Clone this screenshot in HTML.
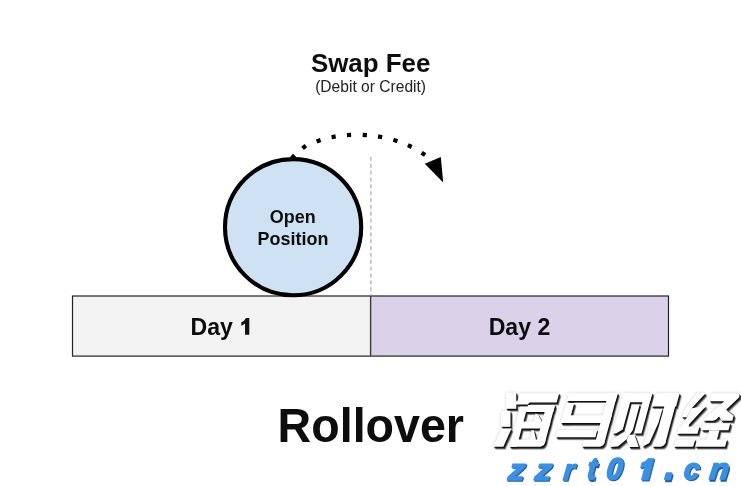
<!DOCTYPE html>
<html>
<head>
<meta charset="utf-8">
<title>Rollover</title>
<style>
html,body{margin:0;padding:0;background:#fff;}
body{width:741px;height:486px;overflow:hidden;font-family:"Liberation Sans",sans-serif;}
svg{display:block;}
text{font-family:"Liberation Sans",sans-serif;}
.b{font-weight:bold;fill:#111;}
.r{fill:#222;}
</style>
</head>
<body>
<svg width="741" height="486" viewBox="0 0 741 486">
  <defs>
    <filter id="halo" x="-5%" y="-15%" width="110%" height="130%"><feGaussianBlur stdDeviation="1.6"/></filter>
    <filter id="soft2" x="-5%" y="-20%" width="110%" height="140%"><feGaussianBlur stdDeviation="0.3"/></filter>
    <filter id="gray" x="-5%" y="-30%" width="110%" height="160%"><feGaussianBlur stdDeviation="0.3"/></filter>
  </defs>
  <rect x="0" y="0" width="741" height="486" fill="#ffffff"/>

  <!-- headings -->
  <text filter="url(#gray)" class="b" transform="translate(370.60 71.60) scale(1 1.030)" font-size="25.90" text-anchor="middle" >Swap Fee</text>
  <text filter="url(#gray)" class="r" transform="translate(370.60 92.20) scale(1 1.020)" font-size="15.60" text-anchor="middle" >(Debit or Credit)</text>

  <!-- day bar -->
  <rect x="72.5" y="296.0" width="298" height="60.1" fill="#f3f3f3"/>
  <rect x="370.5" y="296.0" width="298" height="60.1" fill="#d9d2e9"/>
  <rect x="72.5" y="296.0" width="596" height="60.1" fill="none" stroke="#222" stroke-width="1.2"/>
  <line x1="370.6" y1="296.0" x2="370.6" y2="356.1" stroke="#3c3a40" stroke-width="1.4"/>
  <line x1="370.9" y1="157" x2="370.9" y2="295.5" stroke="#999" stroke-width="1" stroke-dasharray="4 2.85"/>

  <!-- dotted arc arrow -->
  <g fill="#000">
    <rect x="-2.1" y="-2.1" width="4.2" height="4.2" transform="translate(293.1 156.8) rotate(-50)"/>
    <rect x="-2.1" y="-2.1" width="4.2" height="4.2" transform="translate(304.2 147.0) rotate(-38)"/>
    <rect x="-2.1" y="-2.1" width="4.2" height="4.2" transform="translate(318.6 140.8) rotate(-20)"/>
    <rect x="-2.1" y="-2.1" width="4.2" height="4.2" transform="translate(333.6 136.8) rotate(-11)"/>
    <rect x="-2.1" y="-2.1" width="4.2" height="4.2" transform="translate(349.0 135.0) rotate(-3)"/>
    <rect x="-2.1" y="-2.1" width="4.2" height="4.2" transform="translate(364.8 135.0) rotate(3)"/>
    <rect x="-2.1" y="-2.1" width="4.2" height="4.2" transform="translate(380.1 136.8) rotate(11)"/>
    <rect x="-2.1" y="-2.1" width="4.2" height="4.2" transform="translate(395.4 140.5) rotate(18)"/>
    <rect x="-2.1" y="-2.1" width="4.2" height="4.2" transform="translate(409.8 146.1) rotate(25)"/>
    <rect x="-2.1" y="-2.1" width="4.2" height="4.2" transform="translate(423.4 153.8) rotate(33)"/>
  </g>
  <polygon points="424.8,163.8 440.8,157.1 443.2,182.5" fill="#000"/>

  <!-- circle -->
  <circle cx="293.1" cy="227.2" r="68.1" fill="#cfe2f3" stroke="#000" stroke-width="4.1"/>
  <text filter="url(#gray)" class="b" transform="translate(292.80 223.20) scale(1 0.970)" font-size="18.00" text-anchor="middle" >Open</text>
  <text filter="url(#gray)" class="b" transform="translate(292.90 244.90) scale(1 0.970)" font-size="18.00" text-anchor="middle" >Position</text>

  <!-- day labels -->
  <text filter="url(#gray)" class="b" transform="translate(190.60 334.50) scale(1 1.030)" font-size="23.10" text-anchor="start">Day</text>
  <path d="M249.3,317.9 L249.3,334.7 L245.0,334.7 L245.0,323.4 Q243.4,324.9 241.3,325.7 L241.3,322.3 Q244.6,320.9 246.0,317.9 Z" fill="#111"/>
  <text filter="url(#gray)" class="b" transform="translate(519.50 334.50) scale(1 1.030)" font-size="23.10" text-anchor="middle" >Day 2</text>

  <!-- footer title -->
  <text filter="url(#gray)" class="b" transform="translate(370.80 441.70) scale(1 1.015)" font-size="46.60" text-anchor="middle" fill="#000">Rollover</text>

  <!-- watermark: CJK glyphs drawn as polygons (white, with layered soft drop shadow) -->
  <g fill="#000" opacity="0.20" filter="url(#halo)">
    <g><polygon points="568.9,393.2 617.7,393.2 615.6,401.0 566.8,401.0"/><polygon points="608.4,393.2 617.7,393.2 604.3,443.3 595.0,443.3"/><polygon points="566.3,403.0 574.3,403.0 568.9,423.1 560.9,423.1"/><polygon points="563.0,415.2 611.8,415.2 609.7,423.1 560.9,423.1"/><polygon points="557.5,430.0 597.3,430.0 595.4,437.3 555.6,437.3"/><polygon points="583.6,440.0 605.1,440.0 604.3,443.2 603.3,444.9 601.9,446.1 599.9,446.8 581.8,446.8"/></g>
    <g><polygon points="506.0,392.5 516.3,392.5 516.3,408.8 506.0,408.8"/><polygon points="519.3,393.2 559.2,393.2 556.7,402.4 529.5,402.4 528.0,404.5 516.0,404.5 516.0,401.3 517.9,400.6"/><polygon points="501.0,411.0 510.5,411.0 510.5,426.8 501.0,426.8"/><polygon points="501.5,428.6 511.5,428.6 503.4,446.8 493.2,446.8"/><polygon points="520.0,406.8 527.5,406.8 516.8,446.8 509.3,446.8"/><polygon points="520.0,406.8 554.5,406.8 553.2,411.9 518.7,411.9"/><polygon points="528.0,404.9 555.0,404.9 553.2,411.9 526.2,411.9"/><polygon points="546.5,404.9 555.0,404.9 544.8,443.3 536.3,443.3"/><polygon points="516.1,421.5 550.6,421.5 548.7,428.6 514.2,428.6"/><polygon points="512.3,439.5 545.8,439.5 544.8,443.2 543.8,444.9 542.4,446.1 540.4,446.8 510.3,446.8"/><polygon points="535.5,413.5 538.0,414.5 541.5,420.5 541.5,422.0 534.0,422.0"/><polygon points="531.5,430.0 534.0,430.5 535.8,438.5 535.8,440.0 530.0,440.0"/></g>
    <g><polygon points="623.2,393.2 632.6,393.2 622.8,429.6 616.0,433.4 612.6,433.4"/><polygon points="623.2,393.2 652.3,393.2 649.8,402.3 620.7,402.3"/><polygon points="644.8,393.2 652.3,393.2 641.5,433.4 634.0,433.4"/><polygon points="631.7,404.5 639.8,404.5 632.9,430.0 626.4,439.5 617.9,446.6 610.0,447.0 611.5,440.0 617.5,436.2 624.6,431.8"/><polygon points="629.5,434.8 634.4,434.8 638.6,446.0 638.2,447.0 629.3,447.0 626.5,440.0"/><polygon points="655.2,393.2 679.7,393.2 676.1,406.6 651.6,406.6"/><polygon points="651.0,408.8 662.6,408.8 658.4,423.0 649.4,443.0 644.8,445.6 642.3,446.8 643.0,444.0 647.0,435.0 648.5,420.0"/><polygon points="667.8,393.2 678.7,393.2 665.3,443.3 654.4,443.3"/><polygon points="654.4,439.5 666.3,439.5 665.3,443.2 664.3,444.9 662.9,446.1 660.9,446.8 652.4,446.8"/></g>
    <g><polygon points="696.5,393.2 705.6,393.2 691.5,408.5 690.0,411.0 686.8,417.3 681.8,417.3 683.5,411.0"/><polygon points="691.5,408.3 706.1,406.1 689.2,424.2 688.3,428.0 680.0,428.0 686.9,417.2 689.5,411.5"/><polygon points="678.8,426.5 699.5,426.5 697.5,433.8 676.8,433.8"/><polygon points="675.8,439.5 695.2,439.5 693.2,446.8 673.8,446.8"/><polygon points="711.8,393.2 738.6,393.2 739.6,394.2 739.3,397.3 719.0,416.6 716.2,419.5 713.2,420.8 703.2,420.8 706.0,417.0 724.3,401.3 709.3,401.3"/><polygon points="723.0,408.0 726.5,409.9 733.8,415.1 732.4,420.8 721.5,420.8 719.0,416.6"/><polygon points="703.4,423.3 730.4,423.3 728.5,430.3 701.5,430.3"/><polygon points="709.2,430.3 719.5,430.3 716.9,440.0 706.6,440.0"/><polygon points="697.1,439.5 727.1,439.5 725.1,446.8 695.1,446.8"/></g>
  </g>
  <g fill="#000" opacity="0.5" transform="translate(0.6 0.8)">
    <g><polygon points="568.9,393.2 617.7,393.2 615.6,401.0 566.8,401.0"/><polygon points="608.4,393.2 617.7,393.2 604.3,443.3 595.0,443.3"/><polygon points="566.3,403.0 574.3,403.0 568.9,423.1 560.9,423.1"/><polygon points="563.0,415.2 611.8,415.2 609.7,423.1 560.9,423.1"/><polygon points="557.5,430.0 597.3,430.0 595.4,437.3 555.6,437.3"/><polygon points="583.6,440.0 605.1,440.0 604.3,443.2 603.3,444.9 601.9,446.1 599.9,446.8 581.8,446.8"/></g>
    <g><polygon points="506.0,392.5 516.3,392.5 516.3,408.8 506.0,408.8"/><polygon points="519.3,393.2 559.2,393.2 556.7,402.4 529.5,402.4 528.0,404.5 516.0,404.5 516.0,401.3 517.9,400.6"/><polygon points="501.0,411.0 510.5,411.0 510.5,426.8 501.0,426.8"/><polygon points="501.5,428.6 511.5,428.6 503.4,446.8 493.2,446.8"/><polygon points="520.0,406.8 527.5,406.8 516.8,446.8 509.3,446.8"/><polygon points="520.0,406.8 554.5,406.8 553.2,411.9 518.7,411.9"/><polygon points="528.0,404.9 555.0,404.9 553.2,411.9 526.2,411.9"/><polygon points="546.5,404.9 555.0,404.9 544.8,443.3 536.3,443.3"/><polygon points="516.1,421.5 550.6,421.5 548.7,428.6 514.2,428.6"/><polygon points="512.3,439.5 545.8,439.5 544.8,443.2 543.8,444.9 542.4,446.1 540.4,446.8 510.3,446.8"/><polygon points="535.5,413.5 538.0,414.5 541.5,420.5 541.5,422.0 534.0,422.0"/><polygon points="531.5,430.0 534.0,430.5 535.8,438.5 535.8,440.0 530.0,440.0"/></g>
    <g><polygon points="623.2,393.2 632.6,393.2 622.8,429.6 616.0,433.4 612.6,433.4"/><polygon points="623.2,393.2 652.3,393.2 649.8,402.3 620.7,402.3"/><polygon points="644.8,393.2 652.3,393.2 641.5,433.4 634.0,433.4"/><polygon points="631.7,404.5 639.8,404.5 632.9,430.0 626.4,439.5 617.9,446.6 610.0,447.0 611.5,440.0 617.5,436.2 624.6,431.8"/><polygon points="629.5,434.8 634.4,434.8 638.6,446.0 638.2,447.0 629.3,447.0 626.5,440.0"/><polygon points="655.2,393.2 679.7,393.2 676.1,406.6 651.6,406.6"/><polygon points="651.0,408.8 662.6,408.8 658.4,423.0 649.4,443.0 644.8,445.6 642.3,446.8 643.0,444.0 647.0,435.0 648.5,420.0"/><polygon points="667.8,393.2 678.7,393.2 665.3,443.3 654.4,443.3"/><polygon points="654.4,439.5 666.3,439.5 665.3,443.2 664.3,444.9 662.9,446.1 660.9,446.8 652.4,446.8"/></g>
    <g><polygon points="696.5,393.2 705.6,393.2 691.5,408.5 690.0,411.0 686.8,417.3 681.8,417.3 683.5,411.0"/><polygon points="691.5,408.3 706.1,406.1 689.2,424.2 688.3,428.0 680.0,428.0 686.9,417.2 689.5,411.5"/><polygon points="678.8,426.5 699.5,426.5 697.5,433.8 676.8,433.8"/><polygon points="675.8,439.5 695.2,439.5 693.2,446.8 673.8,446.8"/><polygon points="711.8,393.2 738.6,393.2 739.6,394.2 739.3,397.3 719.0,416.6 716.2,419.5 713.2,420.8 703.2,420.8 706.0,417.0 724.3,401.3 709.3,401.3"/><polygon points="723.0,408.0 726.5,409.9 733.8,415.1 732.4,420.8 721.5,420.8 719.0,416.6"/><polygon points="703.4,423.3 730.4,423.3 728.5,430.3 701.5,430.3"/><polygon points="709.2,430.3 719.5,430.3 716.9,440.0 706.6,440.0"/><polygon points="697.1,439.5 727.1,439.5 725.1,446.8 695.1,446.8"/></g>
  </g>
  <g fill="#000" opacity="0.5" transform="translate(1 1.3)">
    <g><polygon points="568.9,393.2 617.7,393.2 615.6,401.0 566.8,401.0"/><polygon points="608.4,393.2 617.7,393.2 604.3,443.3 595.0,443.3"/><polygon points="566.3,403.0 574.3,403.0 568.9,423.1 560.9,423.1"/><polygon points="563.0,415.2 611.8,415.2 609.7,423.1 560.9,423.1"/><polygon points="557.5,430.0 597.3,430.0 595.4,437.3 555.6,437.3"/><polygon points="583.6,440.0 605.1,440.0 604.3,443.2 603.3,444.9 601.9,446.1 599.9,446.8 581.8,446.8"/></g>
    <g><polygon points="506.0,392.5 516.3,392.5 516.3,408.8 506.0,408.8"/><polygon points="519.3,393.2 559.2,393.2 556.7,402.4 529.5,402.4 528.0,404.5 516.0,404.5 516.0,401.3 517.9,400.6"/><polygon points="501.0,411.0 510.5,411.0 510.5,426.8 501.0,426.8"/><polygon points="501.5,428.6 511.5,428.6 503.4,446.8 493.2,446.8"/><polygon points="520.0,406.8 527.5,406.8 516.8,446.8 509.3,446.8"/><polygon points="520.0,406.8 554.5,406.8 553.2,411.9 518.7,411.9"/><polygon points="528.0,404.9 555.0,404.9 553.2,411.9 526.2,411.9"/><polygon points="546.5,404.9 555.0,404.9 544.8,443.3 536.3,443.3"/><polygon points="516.1,421.5 550.6,421.5 548.7,428.6 514.2,428.6"/><polygon points="512.3,439.5 545.8,439.5 544.8,443.2 543.8,444.9 542.4,446.1 540.4,446.8 510.3,446.8"/><polygon points="535.5,413.5 538.0,414.5 541.5,420.5 541.5,422.0 534.0,422.0"/><polygon points="531.5,430.0 534.0,430.5 535.8,438.5 535.8,440.0 530.0,440.0"/></g>
    <g><polygon points="623.2,393.2 632.6,393.2 622.8,429.6 616.0,433.4 612.6,433.4"/><polygon points="623.2,393.2 652.3,393.2 649.8,402.3 620.7,402.3"/><polygon points="644.8,393.2 652.3,393.2 641.5,433.4 634.0,433.4"/><polygon points="631.7,404.5 639.8,404.5 632.9,430.0 626.4,439.5 617.9,446.6 610.0,447.0 611.5,440.0 617.5,436.2 624.6,431.8"/><polygon points="629.5,434.8 634.4,434.8 638.6,446.0 638.2,447.0 629.3,447.0 626.5,440.0"/><polygon points="655.2,393.2 679.7,393.2 676.1,406.6 651.6,406.6"/><polygon points="651.0,408.8 662.6,408.8 658.4,423.0 649.4,443.0 644.8,445.6 642.3,446.8 643.0,444.0 647.0,435.0 648.5,420.0"/><polygon points="667.8,393.2 678.7,393.2 665.3,443.3 654.4,443.3"/><polygon points="654.4,439.5 666.3,439.5 665.3,443.2 664.3,444.9 662.9,446.1 660.9,446.8 652.4,446.8"/></g>
    <g><polygon points="696.5,393.2 705.6,393.2 691.5,408.5 690.0,411.0 686.8,417.3 681.8,417.3 683.5,411.0"/><polygon points="691.5,408.3 706.1,406.1 689.2,424.2 688.3,428.0 680.0,428.0 686.9,417.2 689.5,411.5"/><polygon points="678.8,426.5 699.5,426.5 697.5,433.8 676.8,433.8"/><polygon points="675.8,439.5 695.2,439.5 693.2,446.8 673.8,446.8"/><polygon points="711.8,393.2 738.6,393.2 739.6,394.2 739.3,397.3 719.0,416.6 716.2,419.5 713.2,420.8 703.2,420.8 706.0,417.0 724.3,401.3 709.3,401.3"/><polygon points="723.0,408.0 726.5,409.9 733.8,415.1 732.4,420.8 721.5,420.8 719.0,416.6"/><polygon points="703.4,423.3 730.4,423.3 728.5,430.3 701.5,430.3"/><polygon points="709.2,430.3 719.5,430.3 716.9,440.0 706.6,440.0"/><polygon points="697.1,439.5 727.1,439.5 725.1,446.8 695.1,446.8"/></g>
  </g>
  <g fill="#000" opacity="0.45" transform="translate(1.35 1.8)">
    <g><polygon points="568.9,393.2 617.7,393.2 615.6,401.0 566.8,401.0"/><polygon points="608.4,393.2 617.7,393.2 604.3,443.3 595.0,443.3"/><polygon points="566.3,403.0 574.3,403.0 568.9,423.1 560.9,423.1"/><polygon points="563.0,415.2 611.8,415.2 609.7,423.1 560.9,423.1"/><polygon points="557.5,430.0 597.3,430.0 595.4,437.3 555.6,437.3"/><polygon points="583.6,440.0 605.1,440.0 604.3,443.2 603.3,444.9 601.9,446.1 599.9,446.8 581.8,446.8"/></g>
    <g><polygon points="506.0,392.5 516.3,392.5 516.3,408.8 506.0,408.8"/><polygon points="519.3,393.2 559.2,393.2 556.7,402.4 529.5,402.4 528.0,404.5 516.0,404.5 516.0,401.3 517.9,400.6"/><polygon points="501.0,411.0 510.5,411.0 510.5,426.8 501.0,426.8"/><polygon points="501.5,428.6 511.5,428.6 503.4,446.8 493.2,446.8"/><polygon points="520.0,406.8 527.5,406.8 516.8,446.8 509.3,446.8"/><polygon points="520.0,406.8 554.5,406.8 553.2,411.9 518.7,411.9"/><polygon points="528.0,404.9 555.0,404.9 553.2,411.9 526.2,411.9"/><polygon points="546.5,404.9 555.0,404.9 544.8,443.3 536.3,443.3"/><polygon points="516.1,421.5 550.6,421.5 548.7,428.6 514.2,428.6"/><polygon points="512.3,439.5 545.8,439.5 544.8,443.2 543.8,444.9 542.4,446.1 540.4,446.8 510.3,446.8"/><polygon points="535.5,413.5 538.0,414.5 541.5,420.5 541.5,422.0 534.0,422.0"/><polygon points="531.5,430.0 534.0,430.5 535.8,438.5 535.8,440.0 530.0,440.0"/></g>
    <g><polygon points="623.2,393.2 632.6,393.2 622.8,429.6 616.0,433.4 612.6,433.4"/><polygon points="623.2,393.2 652.3,393.2 649.8,402.3 620.7,402.3"/><polygon points="644.8,393.2 652.3,393.2 641.5,433.4 634.0,433.4"/><polygon points="631.7,404.5 639.8,404.5 632.9,430.0 626.4,439.5 617.9,446.6 610.0,447.0 611.5,440.0 617.5,436.2 624.6,431.8"/><polygon points="629.5,434.8 634.4,434.8 638.6,446.0 638.2,447.0 629.3,447.0 626.5,440.0"/><polygon points="655.2,393.2 679.7,393.2 676.1,406.6 651.6,406.6"/><polygon points="651.0,408.8 662.6,408.8 658.4,423.0 649.4,443.0 644.8,445.6 642.3,446.8 643.0,444.0 647.0,435.0 648.5,420.0"/><polygon points="667.8,393.2 678.7,393.2 665.3,443.3 654.4,443.3"/><polygon points="654.4,439.5 666.3,439.5 665.3,443.2 664.3,444.9 662.9,446.1 660.9,446.8 652.4,446.8"/></g>
    <g><polygon points="696.5,393.2 705.6,393.2 691.5,408.5 690.0,411.0 686.8,417.3 681.8,417.3 683.5,411.0"/><polygon points="691.5,408.3 706.1,406.1 689.2,424.2 688.3,428.0 680.0,428.0 686.9,417.2 689.5,411.5"/><polygon points="678.8,426.5 699.5,426.5 697.5,433.8 676.8,433.8"/><polygon points="675.8,439.5 695.2,439.5 693.2,446.8 673.8,446.8"/><polygon points="711.8,393.2 738.6,393.2 739.6,394.2 739.3,397.3 719.0,416.6 716.2,419.5 713.2,420.8 703.2,420.8 706.0,417.0 724.3,401.3 709.3,401.3"/><polygon points="723.0,408.0 726.5,409.9 733.8,415.1 732.4,420.8 721.5,420.8 719.0,416.6"/><polygon points="703.4,423.3 730.4,423.3 728.5,430.3 701.5,430.3"/><polygon points="709.2,430.3 719.5,430.3 716.9,440.0 706.6,440.0"/><polygon points="697.1,439.5 727.1,439.5 725.1,446.8 695.1,446.8"/></g>
  </g>
  <g fill="#000" opacity="0.35" transform="translate(1.7 2.3)">
    <g><polygon points="568.9,393.2 617.7,393.2 615.6,401.0 566.8,401.0"/><polygon points="608.4,393.2 617.7,393.2 604.3,443.3 595.0,443.3"/><polygon points="566.3,403.0 574.3,403.0 568.9,423.1 560.9,423.1"/><polygon points="563.0,415.2 611.8,415.2 609.7,423.1 560.9,423.1"/><polygon points="557.5,430.0 597.3,430.0 595.4,437.3 555.6,437.3"/><polygon points="583.6,440.0 605.1,440.0 604.3,443.2 603.3,444.9 601.9,446.1 599.9,446.8 581.8,446.8"/></g>
    <g><polygon points="506.0,392.5 516.3,392.5 516.3,408.8 506.0,408.8"/><polygon points="519.3,393.2 559.2,393.2 556.7,402.4 529.5,402.4 528.0,404.5 516.0,404.5 516.0,401.3 517.9,400.6"/><polygon points="501.0,411.0 510.5,411.0 510.5,426.8 501.0,426.8"/><polygon points="501.5,428.6 511.5,428.6 503.4,446.8 493.2,446.8"/><polygon points="520.0,406.8 527.5,406.8 516.8,446.8 509.3,446.8"/><polygon points="520.0,406.8 554.5,406.8 553.2,411.9 518.7,411.9"/><polygon points="528.0,404.9 555.0,404.9 553.2,411.9 526.2,411.9"/><polygon points="546.5,404.9 555.0,404.9 544.8,443.3 536.3,443.3"/><polygon points="516.1,421.5 550.6,421.5 548.7,428.6 514.2,428.6"/><polygon points="512.3,439.5 545.8,439.5 544.8,443.2 543.8,444.9 542.4,446.1 540.4,446.8 510.3,446.8"/><polygon points="535.5,413.5 538.0,414.5 541.5,420.5 541.5,422.0 534.0,422.0"/><polygon points="531.5,430.0 534.0,430.5 535.8,438.5 535.8,440.0 530.0,440.0"/></g>
    <g><polygon points="623.2,393.2 632.6,393.2 622.8,429.6 616.0,433.4 612.6,433.4"/><polygon points="623.2,393.2 652.3,393.2 649.8,402.3 620.7,402.3"/><polygon points="644.8,393.2 652.3,393.2 641.5,433.4 634.0,433.4"/><polygon points="631.7,404.5 639.8,404.5 632.9,430.0 626.4,439.5 617.9,446.6 610.0,447.0 611.5,440.0 617.5,436.2 624.6,431.8"/><polygon points="629.5,434.8 634.4,434.8 638.6,446.0 638.2,447.0 629.3,447.0 626.5,440.0"/><polygon points="655.2,393.2 679.7,393.2 676.1,406.6 651.6,406.6"/><polygon points="651.0,408.8 662.6,408.8 658.4,423.0 649.4,443.0 644.8,445.6 642.3,446.8 643.0,444.0 647.0,435.0 648.5,420.0"/><polygon points="667.8,393.2 678.7,393.2 665.3,443.3 654.4,443.3"/><polygon points="654.4,439.5 666.3,439.5 665.3,443.2 664.3,444.9 662.9,446.1 660.9,446.8 652.4,446.8"/></g>
    <g><polygon points="696.5,393.2 705.6,393.2 691.5,408.5 690.0,411.0 686.8,417.3 681.8,417.3 683.5,411.0"/><polygon points="691.5,408.3 706.1,406.1 689.2,424.2 688.3,428.0 680.0,428.0 686.9,417.2 689.5,411.5"/><polygon points="678.8,426.5 699.5,426.5 697.5,433.8 676.8,433.8"/><polygon points="675.8,439.5 695.2,439.5 693.2,446.8 673.8,446.8"/><polygon points="711.8,393.2 738.6,393.2 739.6,394.2 739.3,397.3 719.0,416.6 716.2,419.5 713.2,420.8 703.2,420.8 706.0,417.0 724.3,401.3 709.3,401.3"/><polygon points="723.0,408.0 726.5,409.9 733.8,415.1 732.4,420.8 721.5,420.8 719.0,416.6"/><polygon points="703.4,423.3 730.4,423.3 728.5,430.3 701.5,430.3"/><polygon points="709.2,430.3 719.5,430.3 716.9,440.0 706.6,440.0"/><polygon points="697.1,439.5 727.1,439.5 725.1,446.8 695.1,446.8"/></g>
  </g>
  <g fill="#000" opacity="0.25" transform="translate(2.1 2.8)">
    <g><polygon points="568.9,393.2 617.7,393.2 615.6,401.0 566.8,401.0"/><polygon points="608.4,393.2 617.7,393.2 604.3,443.3 595.0,443.3"/><polygon points="566.3,403.0 574.3,403.0 568.9,423.1 560.9,423.1"/><polygon points="563.0,415.2 611.8,415.2 609.7,423.1 560.9,423.1"/><polygon points="557.5,430.0 597.3,430.0 595.4,437.3 555.6,437.3"/><polygon points="583.6,440.0 605.1,440.0 604.3,443.2 603.3,444.9 601.9,446.1 599.9,446.8 581.8,446.8"/></g>
    <g><polygon points="506.0,392.5 516.3,392.5 516.3,408.8 506.0,408.8"/><polygon points="519.3,393.2 559.2,393.2 556.7,402.4 529.5,402.4 528.0,404.5 516.0,404.5 516.0,401.3 517.9,400.6"/><polygon points="501.0,411.0 510.5,411.0 510.5,426.8 501.0,426.8"/><polygon points="501.5,428.6 511.5,428.6 503.4,446.8 493.2,446.8"/><polygon points="520.0,406.8 527.5,406.8 516.8,446.8 509.3,446.8"/><polygon points="520.0,406.8 554.5,406.8 553.2,411.9 518.7,411.9"/><polygon points="528.0,404.9 555.0,404.9 553.2,411.9 526.2,411.9"/><polygon points="546.5,404.9 555.0,404.9 544.8,443.3 536.3,443.3"/><polygon points="516.1,421.5 550.6,421.5 548.7,428.6 514.2,428.6"/><polygon points="512.3,439.5 545.8,439.5 544.8,443.2 543.8,444.9 542.4,446.1 540.4,446.8 510.3,446.8"/><polygon points="535.5,413.5 538.0,414.5 541.5,420.5 541.5,422.0 534.0,422.0"/><polygon points="531.5,430.0 534.0,430.5 535.8,438.5 535.8,440.0 530.0,440.0"/></g>
    <g><polygon points="623.2,393.2 632.6,393.2 622.8,429.6 616.0,433.4 612.6,433.4"/><polygon points="623.2,393.2 652.3,393.2 649.8,402.3 620.7,402.3"/><polygon points="644.8,393.2 652.3,393.2 641.5,433.4 634.0,433.4"/><polygon points="631.7,404.5 639.8,404.5 632.9,430.0 626.4,439.5 617.9,446.6 610.0,447.0 611.5,440.0 617.5,436.2 624.6,431.8"/><polygon points="629.5,434.8 634.4,434.8 638.6,446.0 638.2,447.0 629.3,447.0 626.5,440.0"/><polygon points="655.2,393.2 679.7,393.2 676.1,406.6 651.6,406.6"/><polygon points="651.0,408.8 662.6,408.8 658.4,423.0 649.4,443.0 644.8,445.6 642.3,446.8 643.0,444.0 647.0,435.0 648.5,420.0"/><polygon points="667.8,393.2 678.7,393.2 665.3,443.3 654.4,443.3"/><polygon points="654.4,439.5 666.3,439.5 665.3,443.2 664.3,444.9 662.9,446.1 660.9,446.8 652.4,446.8"/></g>
    <g><polygon points="696.5,393.2 705.6,393.2 691.5,408.5 690.0,411.0 686.8,417.3 681.8,417.3 683.5,411.0"/><polygon points="691.5,408.3 706.1,406.1 689.2,424.2 688.3,428.0 680.0,428.0 686.9,417.2 689.5,411.5"/><polygon points="678.8,426.5 699.5,426.5 697.5,433.8 676.8,433.8"/><polygon points="675.8,439.5 695.2,439.5 693.2,446.8 673.8,446.8"/><polygon points="711.8,393.2 738.6,393.2 739.6,394.2 739.3,397.3 719.0,416.6 716.2,419.5 713.2,420.8 703.2,420.8 706.0,417.0 724.3,401.3 709.3,401.3"/><polygon points="723.0,408.0 726.5,409.9 733.8,415.1 732.4,420.8 721.5,420.8 719.0,416.6"/><polygon points="703.4,423.3 730.4,423.3 728.5,430.3 701.5,430.3"/><polygon points="709.2,430.3 719.5,430.3 716.9,440.0 706.6,440.0"/><polygon points="697.1,439.5 727.1,439.5 725.1,446.8 695.1,446.8"/></g>
  </g>
  <g fill="#000" opacity="0.12" transform="translate(2.5 3.3)">
    <g><polygon points="568.9,393.2 617.7,393.2 615.6,401.0 566.8,401.0"/><polygon points="608.4,393.2 617.7,393.2 604.3,443.3 595.0,443.3"/><polygon points="566.3,403.0 574.3,403.0 568.9,423.1 560.9,423.1"/><polygon points="563.0,415.2 611.8,415.2 609.7,423.1 560.9,423.1"/><polygon points="557.5,430.0 597.3,430.0 595.4,437.3 555.6,437.3"/><polygon points="583.6,440.0 605.1,440.0 604.3,443.2 603.3,444.9 601.9,446.1 599.9,446.8 581.8,446.8"/></g>
    <g><polygon points="506.0,392.5 516.3,392.5 516.3,408.8 506.0,408.8"/><polygon points="519.3,393.2 559.2,393.2 556.7,402.4 529.5,402.4 528.0,404.5 516.0,404.5 516.0,401.3 517.9,400.6"/><polygon points="501.0,411.0 510.5,411.0 510.5,426.8 501.0,426.8"/><polygon points="501.5,428.6 511.5,428.6 503.4,446.8 493.2,446.8"/><polygon points="520.0,406.8 527.5,406.8 516.8,446.8 509.3,446.8"/><polygon points="520.0,406.8 554.5,406.8 553.2,411.9 518.7,411.9"/><polygon points="528.0,404.9 555.0,404.9 553.2,411.9 526.2,411.9"/><polygon points="546.5,404.9 555.0,404.9 544.8,443.3 536.3,443.3"/><polygon points="516.1,421.5 550.6,421.5 548.7,428.6 514.2,428.6"/><polygon points="512.3,439.5 545.8,439.5 544.8,443.2 543.8,444.9 542.4,446.1 540.4,446.8 510.3,446.8"/><polygon points="535.5,413.5 538.0,414.5 541.5,420.5 541.5,422.0 534.0,422.0"/><polygon points="531.5,430.0 534.0,430.5 535.8,438.5 535.8,440.0 530.0,440.0"/></g>
    <g><polygon points="623.2,393.2 632.6,393.2 622.8,429.6 616.0,433.4 612.6,433.4"/><polygon points="623.2,393.2 652.3,393.2 649.8,402.3 620.7,402.3"/><polygon points="644.8,393.2 652.3,393.2 641.5,433.4 634.0,433.4"/><polygon points="631.7,404.5 639.8,404.5 632.9,430.0 626.4,439.5 617.9,446.6 610.0,447.0 611.5,440.0 617.5,436.2 624.6,431.8"/><polygon points="629.5,434.8 634.4,434.8 638.6,446.0 638.2,447.0 629.3,447.0 626.5,440.0"/><polygon points="655.2,393.2 679.7,393.2 676.1,406.6 651.6,406.6"/><polygon points="651.0,408.8 662.6,408.8 658.4,423.0 649.4,443.0 644.8,445.6 642.3,446.8 643.0,444.0 647.0,435.0 648.5,420.0"/><polygon points="667.8,393.2 678.7,393.2 665.3,443.3 654.4,443.3"/><polygon points="654.4,439.5 666.3,439.5 665.3,443.2 664.3,444.9 662.9,446.1 660.9,446.8 652.4,446.8"/></g>
    <g><polygon points="696.5,393.2 705.6,393.2 691.5,408.5 690.0,411.0 686.8,417.3 681.8,417.3 683.5,411.0"/><polygon points="691.5,408.3 706.1,406.1 689.2,424.2 688.3,428.0 680.0,428.0 686.9,417.2 689.5,411.5"/><polygon points="678.8,426.5 699.5,426.5 697.5,433.8 676.8,433.8"/><polygon points="675.8,439.5 695.2,439.5 693.2,446.8 673.8,446.8"/><polygon points="711.8,393.2 738.6,393.2 739.6,394.2 739.3,397.3 719.0,416.6 716.2,419.5 713.2,420.8 703.2,420.8 706.0,417.0 724.3,401.3 709.3,401.3"/><polygon points="723.0,408.0 726.5,409.9 733.8,415.1 732.4,420.8 721.5,420.8 719.0,416.6"/><polygon points="703.4,423.3 730.4,423.3 728.5,430.3 701.5,430.3"/><polygon points="709.2,430.3 719.5,430.3 716.9,440.0 706.6,440.0"/><polygon points="697.1,439.5 727.1,439.5 725.1,446.8 695.1,446.8"/></g>
  </g>
  <g fill="#fff">
    <g><polygon points="568.9,393.2 617.7,393.2 615.6,401.0 566.8,401.0"/><polygon points="608.4,393.2 617.7,393.2 604.3,443.3 595.0,443.3"/><polygon points="566.3,403.0 574.3,403.0 568.9,423.1 560.9,423.1"/><polygon points="563.0,415.2 611.8,415.2 609.7,423.1 560.9,423.1"/><polygon points="557.5,430.0 597.3,430.0 595.4,437.3 555.6,437.3"/><polygon points="583.6,440.0 605.1,440.0 604.3,443.2 603.3,444.9 601.9,446.1 599.9,446.8 581.8,446.8"/></g>
    <g><polygon points="506.0,392.5 516.3,392.5 516.3,408.8 506.0,408.8"/><polygon points="519.3,393.2 559.2,393.2 556.7,402.4 529.5,402.4 528.0,404.5 516.0,404.5 516.0,401.3 517.9,400.6"/><polygon points="501.0,411.0 510.5,411.0 510.5,426.8 501.0,426.8"/><polygon points="501.5,428.6 511.5,428.6 503.4,446.8 493.2,446.8"/><polygon points="520.0,406.8 527.5,406.8 516.8,446.8 509.3,446.8"/><polygon points="520.0,406.8 554.5,406.8 553.2,411.9 518.7,411.9"/><polygon points="528.0,404.9 555.0,404.9 553.2,411.9 526.2,411.9"/><polygon points="546.5,404.9 555.0,404.9 544.8,443.3 536.3,443.3"/><polygon points="516.1,421.5 550.6,421.5 548.7,428.6 514.2,428.6"/><polygon points="512.3,439.5 545.8,439.5 544.8,443.2 543.8,444.9 542.4,446.1 540.4,446.8 510.3,446.8"/><polygon points="535.5,413.5 538.0,414.5 541.5,420.5 541.5,422.0 534.0,422.0"/><polygon points="531.5,430.0 534.0,430.5 535.8,438.5 535.8,440.0 530.0,440.0"/></g>
    <g><polygon points="623.2,393.2 632.6,393.2 622.8,429.6 616.0,433.4 612.6,433.4"/><polygon points="623.2,393.2 652.3,393.2 649.8,402.3 620.7,402.3"/><polygon points="644.8,393.2 652.3,393.2 641.5,433.4 634.0,433.4"/><polygon points="631.7,404.5 639.8,404.5 632.9,430.0 626.4,439.5 617.9,446.6 610.0,447.0 611.5,440.0 617.5,436.2 624.6,431.8"/><polygon points="629.5,434.8 634.4,434.8 638.6,446.0 638.2,447.0 629.3,447.0 626.5,440.0"/><polygon points="655.2,393.2 679.7,393.2 676.1,406.6 651.6,406.6"/><polygon points="651.0,408.8 662.6,408.8 658.4,423.0 649.4,443.0 644.8,445.6 642.3,446.8 643.0,444.0 647.0,435.0 648.5,420.0"/><polygon points="667.8,393.2 678.7,393.2 665.3,443.3 654.4,443.3"/><polygon points="654.4,439.5 666.3,439.5 665.3,443.2 664.3,444.9 662.9,446.1 660.9,446.8 652.4,446.8"/></g>
    <g><polygon points="696.5,393.2 705.6,393.2 691.5,408.5 690.0,411.0 686.8,417.3 681.8,417.3 683.5,411.0"/><polygon points="691.5,408.3 706.1,406.1 689.2,424.2 688.3,428.0 680.0,428.0 686.9,417.2 689.5,411.5"/><polygon points="678.8,426.5 699.5,426.5 697.5,433.8 676.8,433.8"/><polygon points="675.8,439.5 695.2,439.5 693.2,446.8 673.8,446.8"/><polygon points="711.8,393.2 738.6,393.2 739.6,394.2 739.3,397.3 719.0,416.6 716.2,419.5 713.2,420.8 703.2,420.8 706.0,417.0 724.3,401.3 709.3,401.3"/><polygon points="723.0,408.0 726.5,409.9 733.8,415.1 732.4,420.8 721.5,420.8 719.0,416.6"/><polygon points="703.4,423.3 730.4,423.3 728.5,430.3 701.5,430.3"/><polygon points="709.2,430.3 719.5,430.3 716.9,440.0 706.6,440.0"/><polygon points="697.1,439.5 727.1,439.5 725.1,446.8 695.1,446.8"/></g>
  </g>
  <g fill="#fff"><polygon points="574.3,402.7 606.1,402.7 605.6,404.6 573.8,404.6"/></g>
  <line x1="727.3" y1="410.6" x2="734.3" y2="415.6" stroke="#333" stroke-width="1.1" stroke-opacity="0.7"/>
  <!-- watermark: latin -->
  <g filter="url(#soft2)" text-rendering="geometricPrecision">
  <g font-weight="bold" font-style="italic" fill="#245d9c" stroke="#245d9c" stroke-linejoin="round"><text transform="translate(508.56 480.65) skewX(-6) scale(1.040 0.940)" font-size="32" stroke-width="1.5">z</text><text transform="translate(535.26 480.65) skewX(-6) scale(1.040 0.940)" font-size="32" stroke-width="1.5">z</text><text transform="translate(563.79 480.60) skewX(-6) scale(0.865 0.918)" font-size="32" stroke-width="1.6">r</text><text transform="translate(587.40 480.56) skewX(-6) scale(0.861 0.970)" font-size="32" stroke-width="1.6">t</text><text transform="translate(606.72 480.31) skewX(-6) scale(0.889 0.936)" font-size="32" stroke-width="2">0</text><polygon stroke-width="0.8" points="649.0,459.5 654.9,459.5 649.3,481.1 642.4,481.1 645.9,467.5 641.6,469.0 642.9,463.9 646.8,462.3"/><text transform="translate(665.41 480.50) skewX(-6) scale(1.013 1.112)" font-size="32" stroke-width="2.4">.</text><text transform="translate(684.29 480.47) skewX(-6) scale(0.866 0.907)" font-size="32" stroke-width="1.9">c</text><text transform="translate(709.67 480.55) skewX(-6) scale(1.004 0.913)" font-size="32" stroke-width="1.7">n</text></g>
  <g font-weight="bold" font-style="italic" fill="#3d8fe0" stroke="#3d8fe0" stroke-linejoin="round"><text transform="translate(507.56 479.55) skewX(-6) scale(1.040 0.940)" font-size="32" stroke-width="1.5">z</text><text transform="translate(534.26 479.55) skewX(-6) scale(1.040 0.940)" font-size="32" stroke-width="1.5">z</text><text transform="translate(562.79 479.50) skewX(-6) scale(0.865 0.918)" font-size="32" stroke-width="1.6">r</text><text transform="translate(586.40 479.46) skewX(-6) scale(0.861 0.970)" font-size="32" stroke-width="1.6">t</text><text transform="translate(605.72 479.21) skewX(-6) scale(0.889 0.936)" font-size="32" stroke-width="2">0</text><polygon stroke-width="0.8" points="648.0,458.4 653.9,458.4 648.3,480.0 641.4,480.0 644.9,466.4 640.6,467.9 641.9,462.8 645.8,461.2"/><text transform="translate(664.41 479.40) skewX(-6) scale(1.013 1.112)" font-size="32" stroke-width="2.4">.</text><text transform="translate(683.29 479.37) skewX(-6) scale(0.866 0.907)" font-size="32" stroke-width="1.9">c</text><text transform="translate(708.67 479.45) skewX(-6) scale(1.004 0.913)" font-size="32" stroke-width="1.7">n</text></g>
  </g>
</svg>
</body>
</html>
